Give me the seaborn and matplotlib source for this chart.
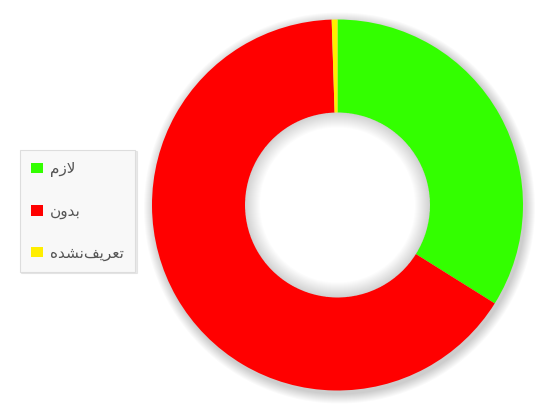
import matplotlib
matplotlib.use("Agg")
import matplotlib.pyplot as plt
from matplotlib.patches import Patch, Circle, Wedge
import seaborn as sns

# Category labels (Persian), written in visual order with Arabic presentation forms
# so that the letters appear joined and right-to-left.
labels = ["\uFEE1\uFEAF\uFEFB",                                   # لازم
          "\uFEE5\uFEED\uFEAA\uFE91",                             # بدون
          "\uFEE9\uFEAA\uFEB8\uFEE7\uFED2\uFEF3\uFEAE\uFECC\uFE97"]  # تعریف‌نشده
shares = [33.9, 65.6, 0.5]
colors = ["#33FF00", "#FF0000", "#FFEE00"]

sns.set_theme(style="white")
plt.rcParams["font.family"] = ["DejaVu Sans"]

W, H = 541, 405
fig = plt.figure(figsize=(W / 100, H / 100), dpi=100)
ax = fig.add_axes([0, 0, 1, 1])

cx, cy, R = 337.5, 200.0, 185.5
r_in = 92.5

# soft drop shadow behind the ring
for i in range(10):
    ax.add_patch(Circle((cx + 2, cy - 3), R + 1 + i * 1.0, facecolor="#000000",
                        alpha=0.018, edgecolor="none", zorder=0))
# white hole over the shadow
ax.add_patch(Circle((cx, cy), r_in, facecolor="white", edgecolor="none", zorder=1))
# inner shade along the rim of the hole
for k in range(1, 16):
    ax.add_patch(Wedge((cx, cy), r_in, 0, 360, width=k, facecolor="#000000",
                       alpha=0.012, edgecolor="none", zorder=1.5))

wedges, _ = ax.pie(shares, colors=colors, startangle=90, counterclock=False,
                   radius=R, center=(cx, cy), frame=True,
                   wedgeprops=dict(width=R - r_in, edgecolor="none", linewidth=0))
for w in wedges:
    w.set_zorder(2)
ax.set_xlim(0, W)
ax.set_ylim(0, H)
ax.set_aspect("equal")
ax.axis("off")

handles = [Patch(facecolor=c, edgecolor="none") for c in colors]
leg = ax.legend(handles, labels, loc="upper left",
                bbox_to_anchor=(20 / W, 1 - 150 / H), bbox_transform=fig.transFigure,
                fontsize=11, labelcolor="#555555", frameon=True, fancybox=False,
                shadow=dict(color="#cccccc", alpha=0.4, ox=1, oy=-1),
                handlelength=0.75, handleheight=0.7, handletextpad=0.45,
                labelspacing=1.72, borderpad=0.75, borderaxespad=0)
frame = leg.get_frame()
frame.set_facecolor("#F8F8F8")
frame.set_edgecolor("#DDDDDD")
frame.set_linewidth(0.8)

fig.savefig("out.png", dpi=100)
